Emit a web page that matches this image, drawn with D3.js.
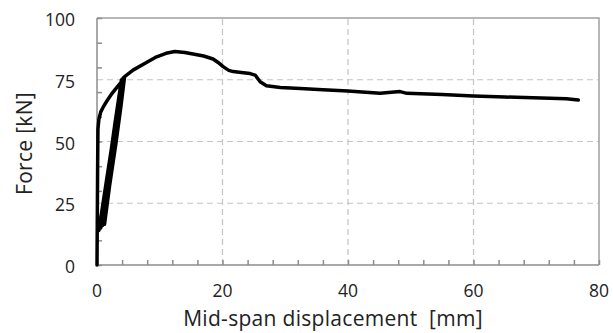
<!DOCTYPE html>
<html>
<head>
<meta charset="utf-8">
<script src="https://cdn.jsdelivr.net/npm/d3@7"></script>
<style>
  body { margin: 0; background: #fff; }
  text { font-family: "Open Sans", sans-serif; fill: #222; white-space: pre; }
</style>
</head>
<body>
<script>
// Width and height
var w = 613;
var h = 333;

var dispData = [0, 0.05, 0.1, 0.15, 0.3, 0.6, 1.0, 1.6, 2.4, 3.2, 4.0,
    2.9, 1.8, 0.9, 0.3,
    1.3, 2.4, 3.3, 3.9,
    2.9, 1.9, 1.1, 0.6,
    1.5, 2.6, 3.5, 4.1,
    3.1, 2.1, 1.3, 0.9,
    1.8, 2.8, 3.6, 4.2,
    3.2, 2.2, 1.5, 1.2,
    2.0, 3.0, 3.8, 4.4,
    5.8, 7.6, 9.5, 11, 12.4, 14, 15.3, 17, 18.5, 19.3, 20.1, 21, 21.7, 23,
    24.4, 25.2, 26, 27, 29.2, 32.4, 36, 40, 45.1, 48.3, 49.4, 55, 60, 65,
    69.5, 74.8, 76.7];
var forceData = [0, 20, 40, 55, 59, 62, 64, 66.5, 69.5, 72, 74.5,
    57, 39, 24, 14,
    29, 47, 63, 75,
    58, 40, 25, 15,
    30, 48, 63.5, 75.5,
    58.5, 40.5, 25, 16,
    31, 48, 63, 75.8,
    59, 41, 26, 16.5,
    32, 49, 64, 76.3,
    79, 81.6, 84.3, 85.7, 86.4, 86, 85.4, 84.6, 83.4, 82, 80.3, 78.8, 78.3, 77.9,
    77.5, 76.9, 74.2, 72.6, 71.9, 71.5, 71, 70.4, 69.5, 70.2, 69.5, 69, 68.4, 68,
    67.7, 67.3, 66.8];

var xTicks = [0, 20, 40, 60, 80];
var yTicks = [0, 25, 50, 75, 100];
var xMinor = d3.range(0, 81, 4);
var yMinor = d3.range(0, 101, 10);

var margin = {left: 97, right: 14, top: 18, bottom: 68};

var svg = d3.select("body").append("svg")
    .attr("width", w)
    .attr("height", h);

var x = d3.scaleLinear()
    .domain([0, 80])
    .range([margin.left, w - margin.right]);
var y = d3.scaleLinear()
    .domain([0, 100])
    .range([h - margin.bottom, margin.top]);

// Gridlines
svg.append("g")
    .selectAll("line.gx")
    .data(xTicks.slice(1, -1))
    .enter().append("line")
    .attr("x1", d => x(d)).attr("x2", d => x(d))
    .attr("y1", y(0)).attr("y2", y(100))
    .style("stroke", "#c4c4c4")
    .style("stroke-width", 1.2)
    .style("stroke-dasharray", "6,4");
svg.append("g")
    .selectAll("line.gy")
    .data(yTicks.slice(1, -1))
    .enter().append("line")
    .attr("x1", x(0)).attr("x2", x(80))
    .attr("y1", d => y(d)).attr("y2", d => y(d))
    .style("stroke", "#c4c4c4")
    .style("stroke-width", 1.2)
    .style("stroke-dasharray", "6,4");

// Border (top and right)
svg.append("path")
    .attr("d", "M" + x(0) + "," + y(100) + "H" + x(80) + "V" + y(0))
    .style("fill", "none")
    .style("stroke", "#a0a0a0")
    .style("stroke-width", 1.5);

// Axes with inward minor ticks
var xAxis = d3.axisTop(x).tickValues(xMinor).tickSize(5).tickFormat("");
var yAxis = d3.axisRight(y).tickValues(yMinor).tickSize(5).tickFormat("");

svg.append("g")
    .attr("class", "axis axis--x")
    .attr("transform", "translate(0," + y(0) + ")")
    .call(xAxis)
    .call(g => g.selectAll("line, path").style("stroke", "#8c8c8c").style("stroke-width", 1.5))
    .call(g => g.select(".domain").attr("d", "M" + x(0) + ",0H" + x(80)));

svg.append("g")
    .attr("class", "axis axis--y")
    .attr("transform", "translate(" + x(0) + ",0)")
    .call(yAxis)
    .call(g => g.selectAll("line, path").style("stroke", "#8c8c8c").style("stroke-width", 1.5))
    .call(g => g.select(".domain").attr("d", "M0," + y(0) + "V" + y(100)));

// Tick labels
svg.append("g")
    .selectAll("text")
    .data(xTicks)
    .enter().append("text")
    .attr("x", d => x(d))
    .attr("y", y(0) + 32)
    .attr("text-anchor", "middle")
    .attr("font-size", "17.5px")
    .text(d => d);

svg.append("g")
    .selectAll("text")
    .data(yTicks)
    .enter().append("text")
    .attr("x", 75)
    .attr("y", d => y(d) + 8)
    .attr("text-anchor", "end")
    .attr("font-size", "17.5px")
    .text(d => d);

// Axis labels
svg.append("text")
    .attr("x", 333)
    .attr("y", 326)
    .attr("text-anchor", "middle")
    .attr("font-size", "21px")
    .attr("letter-spacing", "0.3px")
    .text("Mid-span displacement  [mm]");

svg.append("text")
    .attr("transform", "translate(32," + ((y(0) + y(100)) / 2 + 2) + ") rotate(-90)")
    .attr("text-anchor", "middle")
    .attr("font-size", "21px")
    .attr("letter-spacing", "0.3px")
    .text("Force [kN]");

// Curve
var pts = dispData.map((d, i) => [d, forceData[i]]);
var line = d3.line()
    .x(d => x(d[0]))
    .y(d => y(d[1]))
    .curve(d3.curveLinear);

svg.append("path")
    .datum(pts)
    .attr("d", line)
    .style("fill", "none")
    .style("stroke", "#000")
    .style("stroke-width", 3.5)
    .style("stroke-linejoin", "round")
    .style("stroke-linecap", "round");
</script>
</body>
</html>
